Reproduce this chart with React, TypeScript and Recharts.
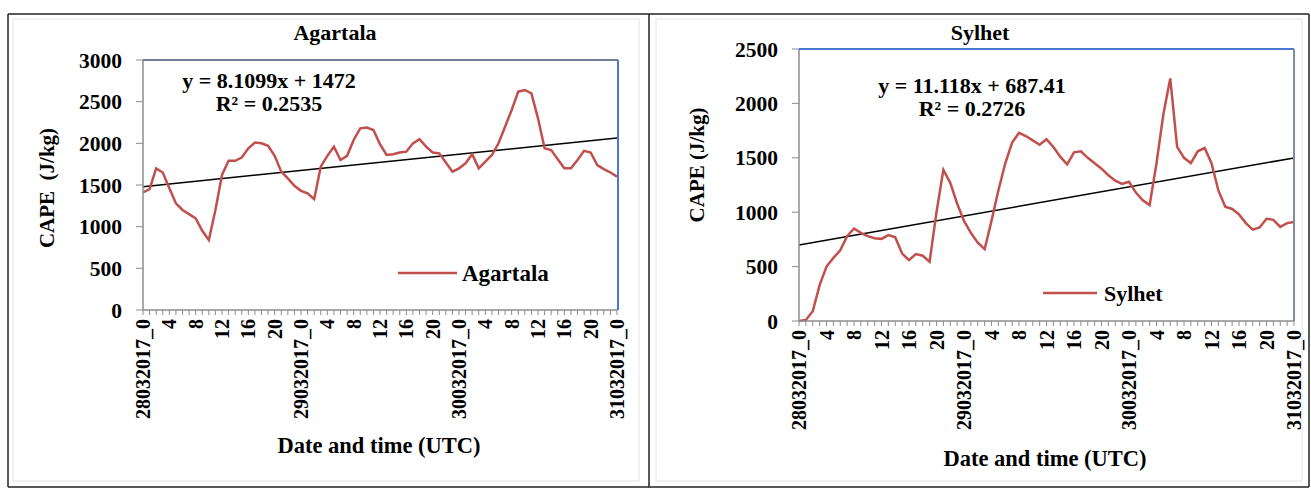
import React from 'react';
import { LineChart, Line, XAxis, YAxis, ReferenceLine } from 'recharts';

// category axis: hourly, 28 Mar 2017 00 UTC .. 31 Mar 2017 00 UTC
const days = ['28032017', '29032017', '30032017', '31032017'];
const hours = Array.from({ length: 24 }, (_, h) => h);
const categories: string[] = [
  ...days.slice(0, 3).flatMap((d) => hours.map((h) => `${d}_${h}`)),
  `${days[3]}_0`,
];

// CAPE (J/kg)
const agartala = [
  1410, 1450, 1700, 1650, 1460, 1280, 1200, 1150, 1100, 950,
  840, 1200, 1620, 1790, 1790, 1830, 1940, 2010, 2000, 1970,
  1850, 1660, 1580, 1490, 1430, 1400, 1330, 1720, 1850, 1960,
  1800, 1850, 2040, 2180, 2190, 2160, 1990, 1860, 1870, 1890,
  1900, 2000, 2050, 1960, 1890, 1880, 1770, 1660, 1700, 1760,
  1870, 1700, 1780, 1860, 2000, 2200, 2400, 2620, 2640, 2600,
  2300, 1940, 1920, 1810, 1700, 1700, 1800, 1910, 1890, 1740,
  1690, 1650, 1600,
];
const sylhet = [
  0, 10, 90, 330, 500, 580, 650, 780, 850, 810,
  780, 760, 755, 790, 770, 620, 560, 615, 600, 545,
  1000, 1390, 1270, 1080, 920, 810, 720, 660, 920, 1200,
  1450, 1640, 1730, 1700, 1660, 1620, 1670, 1600, 1510, 1440,
  1550, 1560, 1500, 1450, 1400, 1340, 1290, 1260, 1280, 1180,
  1110, 1065, 1450, 1900, 2230, 1600, 1500, 1450, 1560, 1590,
  1450, 1200, 1050, 1030, 980, 900, 840, 860, 940, 930,
  865, 900, 910,
];

// linear trendlines as printed on the chart (x = 1..n)
const agartalaTrend = { slope: 8.1099, intercept: 1472, r2: '0.2535' };
const sylhetTrend = { slope: 11.118, intercept: 687.41, r2: '0.2726' };

const agartalaTicks = [0, 500, 1000, 1500, 2000, 2500, 3000];
const sylhetTicks = [0, 500, 1000, 1500, 2000, 2500];

const data = categories.map((t, i) => ({ t, Agartala: agartala[i], Sylhet: sylhet[i] }));

const FONT = "'Liberation Serif', 'Times New Roman', serif";
const RED = '#c0504d';

const XTick = (props: any) => {
  const { x, y, payload } = props;
  const i = payload.index;
  if (i % 4 !== 0) return <g />;
  const [, hour] = String(payload.value).split('_');
  const label = hour === '0' ? payload.value : hour;
  return (
    <text
      transform={`translate(${x},${y + 2}) rotate(-90)`}
      textAnchor="end"
      dominantBaseline="central"
      fontFamily={FONT}
      fontWeight="bold"
      fontSize={20}
      fill="#000"
    >
      {label}
    </text>
  );
};

const trendSegment = (tr: { slope: number; intercept: number }) => [
  { x: categories[0], y: tr.slope * 1 + tr.intercept },
  { x: categories[categories.length - 1], y: tr.slope * categories.length + tr.intercept },
];

const Panel = (p: {
  left: number; width: number; margin: any; yWidth: number; domain: number[]; ticks: number[];
  dataKey: string; trend: { slope: number; intercept: number };
}) => (
  <div style={{ position: 'absolute', left: p.left, top: 14 }}>
    <LineChart width={p.width} height={470} data={data} margin={p.margin}>
      <XAxis
        dataKey="t"
        interval={0}
        height={120}
        tick={<XTick />}
        tickSize={5}
        axisLine={{ stroke: '#8c8c8c', strokeWidth: 1.5 }}
        tickLine={{ stroke: '#8c8c8c' }}
      />
      <YAxis
        width={p.yWidth}
        domain={p.domain}
        ticks={p.ticks}
        type="number"
        tickSize={7}
        tickMargin={14}
        axisLine={{ stroke: '#8c8c8c', strokeWidth: 1.5 }}
        tickLine={{ stroke: '#8c8c8c' }}
        tick={{ fill: '#000', fontSize: 21.5, fontWeight: 'bold', fontFamily: FONT }}
      />
      <ReferenceLine segment={trendSegment(p.trend)} stroke="#000" strokeWidth={1.5} ifOverflow="visible" />
      <Line dataKey={p.dataKey} stroke={RED} strokeWidth={2.5} dot={false} type="linear" isAnimationActive={false} />
    </LineChart>
  </div>
);

const txt = { fontFamily: FONT, fontWeight: 'bold' as const, fill: '#000' };

export default function App() {
  return (
    <div style={{ position: 'absolute', left: 0, top: 0, width: 1311, height: 488, background: '#fff' }}>
      <Panel
        left={8} width={640} margin={{ top: 46, right: 31, left: 0, bottom: 54 }} yWidth={135}
        domain={[0, 3000]} ticks={agartalaTicks} dataKey="Agartala" trend={agartalaTrend}
      />
      <Panel
        left={650} width={658} margin={{ top: 35, right: 14, left: 0, bottom: 43 }} yWidth={149}
        domain={[0, 2500]} ticks={sylhetTicks} dataKey="Sylhet" trend={sylhetTrend}
      />
      <svg width={1311} height={488} style={{ position: 'absolute', left: 0, top: 0, pointerEvents: 'none' }}>
        {/* outer frames */}
        <rect x={13} y={19} width={626} height={462} fill="none" stroke="#e3e3e3" />
        <rect x={656} y={19} width={646} height={462} fill="none" stroke="#e3e3e3" />
        <line x1={8} y1={14} x2={1309} y2={14} stroke="#222" strokeWidth={1.5} />
        <line x1={8} y1={14} x2={8} y2={487} stroke="#222" strokeWidth={1.5} />
        <line x1={649} y1={14} x2={649} y2={487} stroke="#222" strokeWidth={1.5} />
        <line x1={1309} y1={14} x2={1309} y2={487} stroke="#222" strokeWidth={1.5} />
        <line x1={8} y1={487} x2={1309} y2={487} stroke="#222" strokeWidth={1.5} />

        {/* plot-area borders */}
        <line x1={143} y1={60} x2={618} y2={60} stroke="#6f7d96" strokeWidth={2} />
        <line x1={618} y1={60} x2={618} y2={310} stroke="#4a78cf" strokeWidth={2} />
        <line x1={799} y1={49} x2={1294} y2={49} stroke="#4a78cf" strokeWidth={2} />
        <line x1={1294} y1={49} x2={1294} y2={321} stroke="#7f8c99" strokeWidth={2} />

        {/* titles */}
        <text x={335} y={32} textAnchor="middle" dominantBaseline="central" fontSize={22} {...txt}>Agartala</text>
        <text x={980} y={32} textAnchor="middle" dominantBaseline="central" fontSize={22} {...txt}>Sylhet</text>

        {/* axis titles */}
        <text transform="translate(47,188) rotate(-90)" textAnchor="middle" dominantBaseline="central" fontSize={21} style={{ whiteSpace: 'pre' }} {...txt}>CAPE  (J/kg)</text>
        <text transform="translate(697,165) rotate(-90)" textAnchor="middle" dominantBaseline="central" fontSize={21} {...txt}>CAPE (J/kg)</text>
        <text x={379} y={445} textAnchor="middle" dominantBaseline="central" fontSize={22.5} {...txt}>Date and time (UTC)</text>
        <text x={1045} y={458} textAnchor="middle" dominantBaseline="central" fontSize={22.5} {...txt}>Date and time (UTC)</text>

        {/* trendline equations */}
        <text x={269} y={80} textAnchor="middle" dominantBaseline="central" fontSize={22} {...txt}>
          {`y = ${agartalaTrend.slope}x + ${agartalaTrend.intercept}`}
        </text>
        <text x={269} y={103} textAnchor="middle" dominantBaseline="central" fontSize={22} {...txt}>
          {`R² = ${agartalaTrend.r2}`}
        </text>
        <text x={972} y={85} textAnchor="middle" dominantBaseline="central" fontSize={22} {...txt}>
          {`y = ${sylhetTrend.slope}x + ${sylhetTrend.intercept}`}
        </text>
        <text x={972} y={108} textAnchor="middle" dominantBaseline="central" fontSize={22} {...txt}>
          {`R² = ${sylhetTrend.r2}`}
        </text>

        {/* legends */}
        <line x1={398} y1={273} x2={457} y2={273} stroke={RED} strokeWidth={2.5} />
        <text x={462} y={273} dominantBaseline="central" fontSize={23} {...txt}>Agartala</text>
        <line x1={1043} y1={293} x2={1097} y2={293} stroke={RED} strokeWidth={2.5} />
        <text x={1104} y={293} dominantBaseline="central" fontSize={22} {...txt}>Sylhet</text>
      </svg>
    </div>
  );
}
